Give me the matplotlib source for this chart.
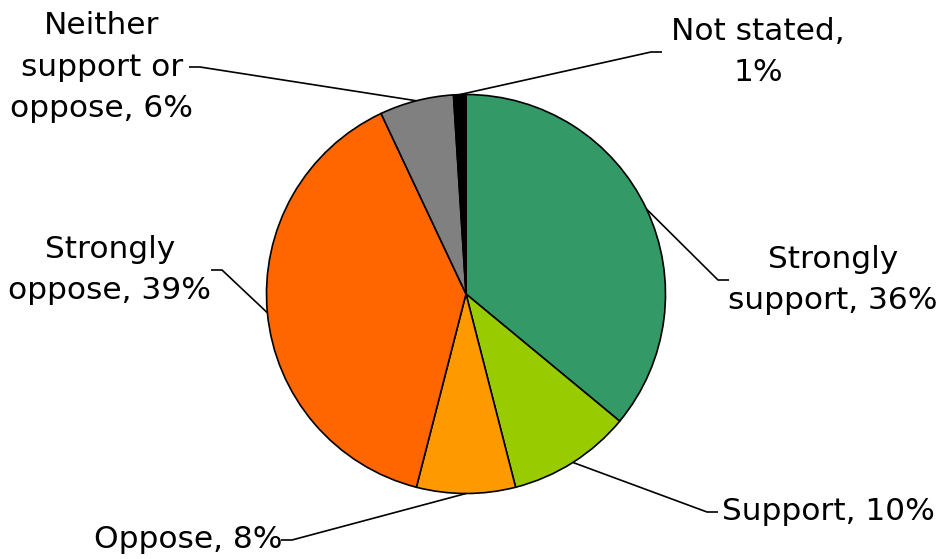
import numpy as np
import matplotlib.pyplot as plt

labels = ["Strongly\nsupport, 36%", "Support, 10%", "Oppose, 8%",
          "Strongly\noppose, 39%", "Neither\nsupport or\noppose, 6%", "Not stated,\n1%"]
values = [36, 10, 8, 39, 6, 1]
colors = ["#339966", "#99CC00", "#FF9900", "#FF6600", "#808080", "#000000"]

# label layout in pixel coords (y from top): text anchor, elbow, side
label_pos = [(833, 280), (828, 512), (188, 540), (110, 270), (102, 67), (758, 52)]
elbow_x = [718, 707, 292, 222, 200, 651]
side = [1, 1, -1, -1, -1, 1]

W, H = 942, 559
cx, cy, r = 466, 294, 199.5

fig = plt.figure(figsize=(W / 100, H / 100), dpi=100)
ax = fig.add_axes([0, 0, 1, 1])

wedges, _ = ax.pie(values, colors=colors, startangle=90, counterclock=False,
                   center=(cx, H - cy), radius=r,
                   wedgeprops=dict(edgecolor="black", linewidth=1.2))
ax.set_xlim(0, W)
ax.set_ylim(0, H)
ax.set_aspect("auto")
ax.axis("off")

total = sum(values)
cum = np.cumsum([0] + values[:-1])
for i, lab in enumerate(labels):
    mid = (cum[i] + values[i] / 2) / total * 2 * np.pi
    sx = cx + r * np.sin(mid)
    sy = cy - r * np.cos(mid)
    tx, ty = label_pos[i]
    ex = elbow_x[i]
    ex2 = ex + 11 * side[i]
    ax.plot([sx, ex, ex2], [H - sy, H - ty, H - ty], color="black", lw=1.2,
            solid_capstyle="butt")
    ax.text(tx, H - ty, lab, ha="center", va="center", fontsize=22.5,
            family="DejaVu Sans", linespacing=1.55)

fig.savefig("out.png", dpi=100)
